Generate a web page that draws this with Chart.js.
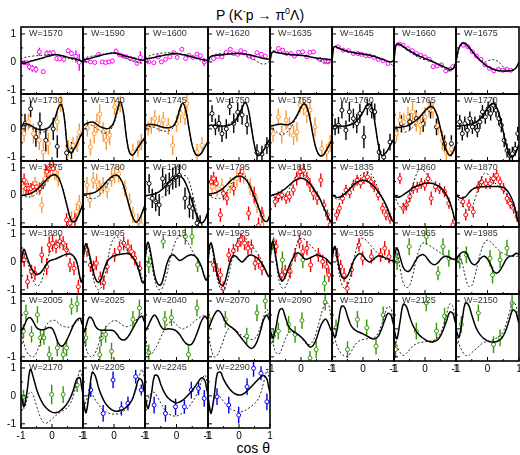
<!DOCTYPE html>
<html>
<head>
<meta charset="utf-8">
<script src="https://cdn.jsdelivr.net/npm/chart.js@4.4.0/dist/chart.umd.min.js"></script>
<style>
body { margin: 0; background: #fff; }
#wrap { position: relative; width: 520px; height: 455px; overflow: hidden; font-family: "Liberation Sans", Arial, sans-serif; }
#wrap canvas { position: absolute; }
.lab { position: absolute; font-size: 9px; line-height: 9px; color: #333; white-space: nowrap; pointer-events: none; }
.xlab { position: absolute; z-index: 10; font-size: 10px; line-height: 12px; color: #000; white-space: nowrap; transform: translateX(-50%); }
#title { position: absolute; left: 0; top: 8px; width: 520px; text-align: center; font-size: 14px; line-height: 14px; }
#title sup { font-size: 9px; line-height: 0; vertical-align: 6px; }
#xt { position: absolute; right: 250px; top: 441px; font-size: 14px; line-height: 14px; }
</style>
</head>
<body>
<div id="wrap">
  <div id="title">P (K<sup>-</sup>p &rarr; &pi;<sup>0</sup>&Lambda;)</div>
  <div id="xt">cos &theta;</div>
</div>
<script>
// Energías W (MeV) de cada panel
const W = [1570, 1590, 1600, 1620, 1635, 1645, 1660, 1675,
           1730, 1740, 1745, 1750, 1755, 1760, 1765, 1770,
           1775, 1780, 1790, 1795, 1815, 1835, 1860, 1870,
           1880, 1905, 1915, 1925, 1940, 1955, 1965, 1985,
           2005, 2025, 2040, 2070, 2090, 2110, 2125, 2150,
           2170, 2205, 2245, 2290];

// Puntos en cos(theta) donde se leen las curvas
const cosGrid = [-1, -0.95, -0.9, -0.8, -0.7, -0.6, -0.5, -0.4, -0.3, -0.2, -0.1, 0,
                 0.1, 0.2, 0.3, 0.4, 0.5, 0.6, 0.7, 0.8, 0.9, 0.95, 1];

// Etiquetas del eje x
const xTickValues = [-1, 0, 1];

// Curva continua (ajuste)
const solidFit = [
  [0.0,-0.04,-0.05,-0.02,0.02,0.05,0.08,0.11,0.14,0.18,0.21,0.24,0.26,0.25,0.23,0.2,0.17,0.14,0.12,0.1,0.06,0.03,0.0],
  [0.05,0.07,0.09,0.12,0.15,0.18,0.21,0.24,0.27,0.29,0.31,0.32,0.3,0.27,0.23,0.2,0.17,0.14,0.11,0.08,0.06,0.07,0.1],
  [0.1,0.11,0.12,0.14,0.16,0.19,0.21,0.24,0.26,0.28,0.29,0.29,0.28,0.26,0.24,0.21,0.18,0.15,0.12,0.09,0.07,0.06,0.06],
  [-0.05,0.15,0.2,0.23,0.24,0.25,0.26,0.27,0.28,0.29,0.3,0.3,0.29,0.28,0.26,0.24,0.21,0.18,0.15,0.12,0.1,0.1,0.1],
  [0.0,0.3,0.36,0.34,0.32,0.3,0.28,0.27,0.26,0.25,0.24,0.23,0.22,0.2,0.18,0.16,0.14,0.12,0.11,0.1,0.09,0.09,0.1],
  [0.0,0.5,0.55,0.5,0.45,0.41,0.38,0.35,0.33,0.31,0.29,0.28,0.26,0.24,0.21,0.18,0.14,0.1,0.06,0.02,0.0,0.02,0.06],
  [0.0,0.55,0.65,0.62,0.55,0.47,0.4,0.33,0.27,0.21,0.17,0.12,0.08,0.03,-0.02,-0.07,-0.12,-0.17,-0.22,-0.27,-0.25,-0.15,0.0],
  [0.0,0.3,0.52,0.68,0.66,0.54,0.4,0.26,0.13,0.02,-0.08,-0.16,-0.22,-0.27,-0.3,-0.32,-0.33,-0.33,-0.32,-0.3,-0.22,-0.12,0.0],
  [0.07,0.13,0.18,0.17,0.13,0.06,0.0,-0.02,-0.03,0.0,0.06,0.2,0.4,0.75,0.88,0.38,-0.65,-0.86,-0.75,-0.55,-0.3,-0.2,-0.1],
  [0.1,0.15,0.19,0.23,0.25,0.2,0.12,0.06,0.02,0.01,0.07,0.25,0.65,0.96,0.6,-0.3,-0.85,-0.94,-0.8,-0.62,-0.45,-0.38,-0.3],
  [0.12,0.14,0.15,0.16,0.15,0.12,0.08,0.05,0.04,0.05,0.1,0.3,0.7,0.92,0.65,0.0,-0.6,-0.9,-0.95,-0.85,-0.65,-0.55,-0.45],
  [0.12,0.13,0.14,0.13,0.12,0.1,0.1,0.11,0.14,0.2,0.32,0.5,0.75,0.95,0.7,0.05,-0.6,-0.95,-0.9,-0.75,-0.55,-0.45,-0.35],
  [0.1,0.11,0.12,0.15,0.17,0.17,0.15,0.16,0.22,0.35,0.55,0.78,0.9,0.75,0.3,-0.3,-0.75,-0.95,-0.95,-0.8,-0.6,-0.5,-0.4],
  [0.12,0.11,0.1,0.1,0.1,0.1,0.12,0.15,0.2,0.3,0.42,0.6,0.8,0.9,0.7,0.1,-0.6,-0.95,-0.9,-0.75,-0.55,-0.45,-0.35],
  [0.05,0.05,0.05,0.06,0.08,0.1,0.15,0.22,0.3,0.4,0.52,0.65,0.75,0.8,0.72,0.45,0.0,-0.45,-0.8,-0.95,-0.85,-0.7,-0.55],
  [0.1,0.1,0.1,0.12,0.13,0.15,0.18,0.22,0.3,0.4,0.55,0.72,0.87,0.9,0.75,0.4,-0.1,-0.6,-0.95,-1.0,-0.85,-0.7,-0.55],
  [0.0,0.0,0.01,0.03,0.06,0.12,0.2,0.3,0.42,0.55,0.66,0.73,0.75,0.65,0.4,0.0,-0.45,-0.85,-0.97,-0.85,-0.6,-0.45,-0.3],
  [0.05,0.05,0.05,0.06,0.08,0.12,0.2,0.3,0.42,0.55,0.65,0.72,0.73,0.62,0.38,0.0,-0.42,-0.78,-0.97,-0.9,-0.65,-0.5,-0.35],
  [0.0,0.0,0.0,0.02,0.05,0.1,0.18,0.28,0.4,0.52,0.62,0.7,0.71,0.62,0.42,0.12,-0.25,-0.6,-0.88,-1.0,-0.9,-0.75,-0.6],
  [0.05,0.05,0.06,0.08,0.12,0.18,0.27,0.38,0.5,0.6,0.67,0.7,0.68,0.6,0.45,0.22,-0.05,-0.35,-0.65,-0.9,-0.95,-0.85,-0.7],
  [0.0,0.0,0.02,0.05,0.1,0.17,0.25,0.35,0.45,0.54,0.6,0.62,0.6,0.52,0.4,0.25,0.08,-0.1,-0.35,-0.6,-0.85,-0.95,-0.9],
  [0.0,0.0,-0.05,-0.08,-0.03,0.05,0.15,0.27,0.38,0.47,0.53,0.55,0.53,0.47,0.38,0.27,0.12,-0.05,-0.25,-0.5,-0.8,-0.92,-0.9],
  [0.0,-0.05,-0.07,-0.05,0.02,0.1,0.18,0.26,0.32,0.37,0.41,0.44,0.45,0.44,0.41,0.36,0.28,0.17,0.0,-0.25,-0.6,-0.85,-0.95],
  [0.05,-0.02,-0.08,-0.1,-0.05,0.08,0.2,0.27,0.3,0.31,0.31,0.32,0.32,0.32,0.32,0.31,0.28,0.2,0.05,-0.2,-0.6,-0.85,-1.0],
  [0.0,0.3,0.45,0.15,-0.15,-0.35,-0.45,-0.42,-0.3,-0.12,0.02,0.07,0.1,0.15,0.2,0.25,0.28,0.28,0.2,0.0,-0.55,-0.72,-0.5],
  [0.0,0.5,0.65,0.3,-0.2,-0.6,-0.73,-0.55,-0.2,0.05,0.15,0.22,0.25,0.27,0.29,0.3,0.28,0.18,0.0,-0.3,-0.7,-0.75,-0.6],
  [0.0,0.55,0.7,0.2,-0.45,-0.78,-0.82,-0.5,-0.05,0.2,0.25,0.15,0.05,0.1,0.18,0.24,0.25,0.2,0.05,-0.2,-0.58,-0.65,-0.5],
  [0.0,0.55,0.68,0.2,-0.45,-0.8,-0.83,-0.5,-0.05,0.22,0.2,0.08,0.0,0.1,0.22,0.25,0.2,0.12,0.0,-0.18,-0.4,-0.5,-0.45],
  [0.0,0.6,0.72,0.1,-0.5,-0.68,-0.5,-0.2,0.05,0.25,0.33,0.25,0.12,0.1,0.15,0.2,0.25,0.23,0.18,0.12,0.0,-0.05,-0.1],
  [0.0,0.42,0.55,0.0,-0.5,-0.6,-0.5,-0.25,0.05,0.22,0.3,0.22,0.08,0.0,0.05,0.15,0.22,0.2,0.15,0.1,0.05,0.05,0.05],
  [0.0,0.38,0.5,0.15,-0.2,-0.33,-0.32,-0.15,0.05,0.2,0.26,0.22,0.08,-0.05,-0.1,-0.05,0.08,0.18,0.2,0.15,0.1,0.1,0.1],
  [0.0,0.15,0.25,0.35,0.35,0.15,-0.05,-0.1,0.0,0.15,0.2,0.1,-0.1,-0.35,-0.4,-0.3,-0.1,0.1,0.2,0.22,0.3,0.3,0.25],
  [-0.1,0.0,0.1,0.35,0.4,0.25,0.05,-0.02,-0.03,0.0,0.05,0.02,-0.2,-0.5,-0.62,-0.55,-0.35,-0.1,0.15,0.32,0.38,0.25,0.1],
  [0.0,-0.1,0.1,0.42,0.35,0.1,-0.02,-0.05,-0.05,-0.05,-0.05,-0.08,-0.2,-0.35,-0.4,-0.35,-0.2,0.0,0.2,0.38,0.45,0.35,0.2],
  [-0.1,0.0,0.1,0.35,0.5,0.35,0.1,-0.02,0.0,0.0,-0.02,-0.08,-0.2,-0.38,-0.52,-0.58,-0.52,-0.3,0.0,0.3,0.45,0.4,0.3],
  [0.0,0.1,0.25,0.5,0.65,0.6,0.4,0.2,0.1,0.02,-0.08,-0.22,-0.36,-0.5,-0.63,-0.7,-0.62,-0.4,-0.05,0.35,0.5,0.4,0.25],
  [0.0,-0.2,-0.32,0.1,0.65,0.72,0.4,0.1,-0.05,-0.12,-0.2,-0.28,-0.4,-0.55,-0.65,-0.58,-0.35,0.0,0.25,0.35,0.15,0.0,-0.1],
  [0.0,-0.2,-0.3,0.2,0.8,0.78,0.45,0.15,0.0,-0.08,-0.13,-0.18,-0.24,-0.3,-0.35,-0.35,-0.25,0.0,0.3,0.55,0.5,0.3,0.1],
  [0.0,-0.25,-0.35,0.3,0.88,0.8,0.45,0.15,-0.05,-0.2,-0.3,-0.38,-0.44,-0.47,-0.45,-0.4,-0.25,0.0,0.3,0.6,0.55,0.35,0.15],
  [0.0,-0.2,-0.3,0.35,0.93,0.85,0.5,0.15,-0.1,-0.25,-0.36,-0.43,-0.47,-0.47,-0.45,-0.38,-0.25,0.0,0.35,0.68,0.6,0.4,0.2],
  [0.05,-0.2,-0.38,0.2,0.95,0.65,0.25,-0.05,-0.27,-0.42,-0.52,-0.58,-0.6,-0.58,-0.5,-0.4,-0.25,-0.05,0.25,0.6,0.65,0.35,0.05],
  [0.0,-0.4,-0.6,0.1,0.85,0.7,0.3,0.0,-0.22,-0.37,-0.47,-0.53,-0.55,-0.52,-0.48,-0.4,-0.28,-0.1,0.25,0.6,0.55,0.3,0.05],
  [0.0,-0.3,-0.45,0.05,0.72,0.72,0.42,0.15,-0.03,-0.14,-0.21,-0.25,-0.22,-0.15,-0.05,0.07,0.2,0.35,0.52,0.65,0.55,0.3,0.05],
  [0.0,-0.4,-0.62,0.0,0.8,0.85,0.6,0.4,0.25,0.13,0.06,0.03,0.05,0.12,0.22,0.33,0.45,0.57,0.67,0.73,0.6,0.35,0.1]
];

// Curva punteada (ajuste alternativo)
const dashFit = [
  [0.08,0.12,0.15,0.18,0.2,0.21,0.22,0.23,0.24,0.25,0.26,0.27,0.27,0.25,0.22,0.18,0.14,0.1,0.07,0.05,0.04,0.03,0.02],
  [0.1,0.13,0.16,0.19,0.21,0.23,0.25,0.27,0.29,0.31,0.32,0.31,0.28,0.23,0.18,0.13,0.08,0.04,0.0,-0.03,-0.04,0.0,0.05],
  [0.15,0.17,0.2,0.24,0.27,0.29,0.31,0.32,0.33,0.33,0.33,0.32,0.3,0.27,0.24,0.2,0.16,0.12,0.08,0.05,0.02,0.01,0.0],
  [-0.05,0.12,0.2,0.26,0.28,0.3,0.31,0.31,0.31,0.31,0.31,0.3,0.28,0.24,0.19,0.13,0.07,0.0,-0.06,-0.08,-0.05,0.0,0.05],
  [0.0,0.3,0.4,0.38,0.34,0.31,0.29,0.28,0.27,0.26,0.26,0.25,0.24,0.22,0.19,0.15,0.1,0.05,0.01,-0.02,-0.02,0.02,0.08],
  [0.0,0.5,0.56,0.52,0.47,0.43,0.4,0.37,0.35,0.33,0.32,0.3,0.28,0.26,0.23,0.2,0.16,0.12,0.07,0.02,-0.07,-0.13,-0.12],
  [0.0,0.5,0.62,0.6,0.52,0.44,0.36,0.29,0.22,0.15,0.1,0.08,0.08,0.06,0.0,-0.07,-0.15,-0.22,-0.28,-0.3,-0.25,-0.18,-0.1],
  [0.0,0.28,0.48,0.62,0.6,0.5,0.37,0.24,0.12,0.04,0.0,0.03,0.07,0.08,0.04,-0.05,-0.18,-0.28,-0.32,-0.3,-0.22,-0.16,-0.1],
  [0.05,0.08,0.1,0.1,0.05,-0.02,-0.08,-0.12,-0.12,-0.08,0.0,0.15,0.38,0.72,0.88,0.4,-0.62,-0.86,-0.75,-0.55,-0.3,-0.2,-0.1],
  [0.1,0.12,0.14,0.15,0.12,0.05,-0.03,-0.1,-0.15,-0.13,-0.02,0.2,0.55,0.9,0.62,-0.25,-0.85,-0.95,-0.82,-0.65,-0.47,-0.4,-0.32],
  [0.1,0.1,0.1,0.08,0.05,0.0,-0.05,-0.08,-0.08,-0.05,0.05,0.25,0.6,0.9,0.65,0.0,-0.6,-0.9,-0.95,-0.85,-0.65,-0.55,-0.45],
  [0.1,0.1,0.1,0.08,0.07,0.08,0.1,0.14,0.2,0.28,0.4,0.56,0.76,0.93,0.7,0.05,-0.6,-0.95,-0.9,-0.75,-0.55,-0.45,-0.35],
  [0.1,0.05,0.0,-0.1,-0.18,-0.2,-0.15,-0.05,0.1,0.3,0.5,0.72,0.88,0.75,0.3,-0.3,-0.75,-0.95,-0.95,-0.8,-0.6,-0.5,-0.4],
  [0.1,0.08,0.06,0.03,0.03,0.05,0.1,0.18,0.28,0.4,0.5,0.62,0.78,0.88,0.7,0.1,-0.6,-0.95,-0.9,-0.75,-0.55,-0.45,-0.35],
  [0.05,0.0,-0.05,-0.1,-0.12,-0.1,-0.05,0.05,0.2,0.35,0.48,0.6,0.72,0.8,0.72,0.45,0.0,-0.45,-0.8,-0.95,-0.85,-0.7,-0.55],
  [0.1,0.1,0.1,0.11,0.12,0.14,0.17,0.22,0.3,0.42,0.58,0.75,0.88,0.88,0.72,0.38,-0.1,-0.6,-0.95,-1.0,-0.85,-0.7,-0.55],
  [0.0,-0.02,-0.04,-0.06,-0.06,-0.02,0.05,0.15,0.28,0.45,0.6,0.72,0.76,0.66,0.4,0.0,-0.45,-0.85,-0.97,-0.85,-0.6,-0.45,-0.3],
  [0.05,0.0,-0.05,-0.1,-0.12,-0.1,-0.02,0.1,0.25,0.42,0.58,0.7,0.74,0.62,0.38,0.0,-0.42,-0.78,-0.97,-0.9,-0.65,-0.5,-0.35],
  [0.0,-0.05,-0.1,-0.18,-0.22,-0.2,-0.12,0.0,0.15,0.3,0.45,0.58,0.67,0.72,0.7,0.5,0.1,-0.4,-0.85,-1.05,-0.9,-0.75,-0.6],
  [0.05,0.0,-0.05,-0.1,-0.12,-0.1,-0.02,0.12,0.3,0.5,0.68,0.8,0.8,0.7,0.5,0.25,-0.05,-0.35,-0.65,-0.9,-0.95,-0.85,-0.7],
  [0.0,-0.03,-0.06,-0.1,-0.12,-0.08,0.02,0.2,0.42,0.62,0.76,0.8,0.76,0.62,0.45,0.27,0.08,-0.12,-0.38,-0.63,-0.88,-0.95,-0.9],
  [0.0,-0.05,-0.1,-0.15,-0.1,0.0,0.12,0.27,0.43,0.58,0.7,0.8,0.85,0.83,0.72,0.5,0.22,-0.05,-0.32,-0.58,-0.85,-0.95,-0.9],
  [0.0,-0.1,-0.25,-0.42,-0.47,-0.38,-0.1,0.3,0.7,0.92,0.95,0.85,0.7,0.55,0.43,0.33,0.22,0.1,-0.08,-0.3,-0.62,-0.85,-0.95],
  [0.0,-0.1,-0.2,-0.35,-0.5,-0.55,-0.45,-0.15,0.25,0.6,0.8,0.78,0.65,0.5,0.38,0.28,0.18,0.05,-0.12,-0.35,-0.7,-0.9,-1.0],
  [0.0,0.22,0.35,0.05,-0.35,-0.68,-0.85,-0.82,-0.55,-0.15,0.25,0.5,0.65,0.7,0.65,0.55,0.42,0.3,0.15,-0.05,-0.55,-0.72,-0.5],
  [0.0,0.4,0.55,0.2,-0.4,-0.85,-1.0,-0.9,-0.5,0.1,0.6,0.85,0.9,0.8,0.62,0.45,0.3,0.18,0.05,-0.15,-0.55,-0.75,-0.6],
  [0.0,0.4,0.55,0.0,-0.6,-0.95,-1.0,-0.8,-0.4,0.1,0.5,0.8,0.92,0.9,0.8,0.62,0.4,0.2,0.0,-0.2,-0.5,-0.65,-0.5],
  [0.0,0.4,0.55,0.05,-0.6,-0.95,-1.0,-0.75,-0.3,0.2,0.6,0.85,0.9,0.85,0.75,0.6,0.45,0.3,0.1,-0.15,-0.45,-0.55,-0.5],
  [0.0,0.45,0.6,-0.05,-0.7,-0.95,-0.9,-0.6,-0.1,0.35,0.7,0.85,0.82,0.72,0.6,0.48,0.35,0.22,0.1,0.0,-0.05,-0.08,-0.1],
  [0.0,0.35,0.45,-0.2,-0.75,-0.95,-0.85,-0.45,0.05,0.5,0.8,0.85,0.78,0.65,0.52,0.4,0.28,0.18,0.1,0.03,0.0,0.0,0.02],
  [0.0,0.3,0.35,-0.25,-0.75,-0.92,-0.85,-0.5,0.0,0.4,0.65,0.68,0.62,0.55,0.47,0.4,0.32,0.25,0.18,0.12,0.08,0.08,0.1],
  [0.0,0.2,0.25,-0.05,-0.55,-0.88,-0.85,-0.5,0.0,0.4,0.68,0.78,0.72,0.6,0.48,0.38,0.3,0.25,0.22,0.2,0.2,0.2,0.2],
  [0.0,-0.3,-0.55,-0.85,-0.97,-1.0,-0.85,-0.55,-0.2,0.1,0.25,0.3,0.3,0.22,0.12,0.08,0.06,0.08,0.15,0.25,0.35,0.38,0.3],
  [0.0,-0.4,-0.7,-0.95,-1.0,-0.85,-0.55,-0.25,0.0,0.15,0.25,0.3,0.28,0.2,0.12,0.08,0.1,0.18,0.3,0.45,0.55,0.45,0.3],
  [0.0,-0.5,-0.85,-0.9,-0.75,-0.55,-0.3,-0.05,0.15,0.25,0.25,0.15,0.05,0.0,0.05,0.1,0.2,0.3,0.38,0.45,0.48,0.4,0.3],
  [0.0,-0.4,-0.7,-1.0,-0.95,-0.7,-0.4,-0.1,0.05,0.05,-0.05,-0.15,-0.25,-0.3,-0.35,-0.38,-0.35,-0.2,0.1,0.45,0.7,0.55,0.35],
  [0.0,-0.3,-0.55,-0.85,-0.9,-0.65,-0.35,-0.15,-0.1,-0.15,-0.22,-0.32,-0.45,-0.55,-0.55,-0.4,-0.1,0.3,0.7,0.95,0.85,0.5,0.2],
  [0.0,-0.2,-0.4,-0.7,-0.88,-0.97,-0.98,-0.85,-0.65,-0.5,-0.42,-0.38,-0.36,-0.35,-0.33,-0.28,-0.12,0.15,0.5,0.8,0.75,0.4,0.1],
  [0.0,-0.3,-0.6,-0.85,-0.95,-0.88,-0.75,-0.62,-0.55,-0.5,-0.48,-0.46,-0.45,-0.43,-0.4,-0.32,-0.15,0.15,0.55,0.9,0.8,0.45,0.15],
  [0.0,-0.3,-0.55,-0.8,-0.95,-0.95,-0.85,-0.75,-0.65,-0.55,-0.48,-0.45,-0.42,-0.38,-0.32,-0.25,-0.1,0.2,0.6,0.95,0.85,0.5,0.2],
  [0.0,-0.3,-0.45,-0.1,0.15,0.0,-0.35,-0.7,-0.92,-0.98,-0.92,-0.82,-0.72,-0.64,-0.57,-0.5,-0.42,-0.25,0.05,0.45,0.95,0.8,0.5],
  [0.0,-0.35,-0.2,0.1,0.05,-0.15,-0.3,-0.45,-0.55,-0.6,-0.65,-0.65,-0.65,-0.62,-0.55,-0.45,-0.3,-0.1,0.2,0.65,0.95,0.8,0.5],
  [0.0,-0.25,-0.1,0.1,0.12,-0.05,-0.25,-0.45,-0.6,-0.68,-0.72,-0.72,-0.68,-0.6,-0.5,-0.38,-0.22,-0.05,0.2,0.55,0.75,0.6,0.4],
  [0.0,-0.5,-0.6,-0.1,0.05,-0.05,-0.2,-0.35,-0.45,-0.5,-0.55,-0.58,-0.56,-0.52,-0.45,-0.37,-0.28,-0.15,0.1,0.5,0.9,0.75,0.45]
];

// Experimento de la serie principal y de la secundaria en cada panel
const expA = ['M','M','M','M','M','M','M','M',
              'O','O','O','K','O','K','O','K',
              'R','O','K','R','R','R','R','R',
              'R','R','G','R','R','R','G','G',
              'G','G','G','G','G','G','G','G',
              'G','B','B','B'];
const expB = [null,null,null,null,null,null,null,null,
              'K',null,null,null,null,null,'K',null,
              'O',null,null,'O',null,null,null,null,
              null,null,null,null,'G',null,null,null,
              null,null,null,null,null,null,null,null,
              null,null,null,null];

// Datos medidos [cos theta, P, error]
const ptsA = [
  [[-0.9,-0.03,0.08],[-0.82,-0.03,0.08],[-0.73,-0.18,0.12],[-0.63,-0.23,0.12],[-0.52,-0.27,0.12],[-0.41,0.36,0.15],[-0.28,-0.35,0.08],[-0.17,0.3,0.12],[-0.07,0.3,0.12],[0.04,0.33,0.1],[0.15,0.12,0.1],[0.25,0.12,0.1],[0.38,0.09,0.1],[0.52,0.4,0.08],[0.63,0.3,0.1],[0.77,0.2,0.22],[0.88,-0.02,0.3]],
  [[-0.87,0.06,0.06],[-0.76,0.0,0.06],[-0.62,-0.02,0.06],[-0.49,0.27,0.06],[-0.38,0.0,0.06],[-0.27,-0.02,0.06],[-0.16,0.0,0.06],[-0.05,0.03,0.08],[0.07,0.38,0.1],[0.18,0.25,0.06],[0.29,0.21,0.06],[0.4,0.18,0.06],[0.53,0.12,0.06],[0.64,0.09,0.08],[0.74,-0.05,0.08],[0.85,0.16,0.22]],
  [[-0.88,0.0,0.06],[-0.72,-0.03,0.06],[-0.58,0.18,0.06],[-0.48,0.0,0.06],[-0.35,0.09,0.06],[-0.21,0.18,0.06],[-0.09,0.33,0.06],[0.02,0.16,0.06],[0.17,0.45,0.06],[0.29,0.12,0.06],[0.4,0.24,0.06],[0.52,0.16,0.06],[0.65,0.28,0.06],[0.76,0.22,0.06],[0.88,0.0,0.15]],
  [[-0.82,0.12,0.05],[-0.69,0.2,0.05],[-0.55,0.18,0.05],[-0.41,0.34,0.05],[-0.28,0.45,0.05],[-0.17,0.3,0.05],[-0.04,0.27,0.05],[0.06,0.4,0.05],[0.18,0.34,0.05],[0.31,0.21,0.05],[0.45,0.15,0.05],[0.58,0.33,0.05],[0.72,0.27,0.05],[0.85,0.21,0.05]],
  [[-0.73,0.48,0.06],[-0.59,0.42,0.05],[-0.46,0.3,0.05],[-0.33,0.3,0.05],[-0.21,0.21,0.05],[-0.08,0.34,0.05],[0.05,0.36,0.05],[0.19,0.18,0.06],[0.29,0.34,0.06],[0.4,0.36,0.06],[0.61,0.09,0.06],[0.77,0.0,0.06],[0.88,0.0,0.06]],
  [[-0.8,0.54,0.05],[-0.64,0.42,0.05],[-0.47,0.4,0.05],[-0.31,0.3,0.05],[-0.17,0.3,0.05],[-0.05,0.27,0.05],[0.09,0.22,0.05],[0.22,0.21,0.05],[0.36,0.16,0.05],[0.49,0.09,0.05],[0.65,0.04,0.05],[0.81,-0.06,0.05]],
  [[-0.83,0.64,0.05],[-0.71,0.6,0.05],[-0.55,0.48,0.05],[-0.41,0.4,0.05],[-0.28,0.3,0.05],[-0.14,0.24,0.05],[0.0,0.18,0.05],[0.13,0.09,0.05],[0.26,-0.17,0.05],[0.39,-0.15,0.05],[0.53,-0.11,0.05],[0.67,-0.32,0.05],[0.8,-0.27,0.05],[0.9,-0.17,0.05]],
  [[-0.76,0.6,0.05],[-0.62,0.54,0.05],[-0.48,0.36,0.05],[-0.35,0.21,0.05],[-0.21,0.09,0.05],[-0.08,-0.11,0.05],[0.06,-0.23,0.05],[0.2,-0.32,0.05],[0.35,-0.27,0.05],[0.48,-0.3,0.05],[0.61,-0.27,0.05],[0.74,-0.3,0.05]],
  [[-0.9,-0.17,0.3],[-0.76,0.25,0.3],[-0.6,-0.17,0.35],[-0.41,-0.41,0.35],[-0.28,-0.83,0.35],[-0.12,-0.53,0.4],[0.17,0.25,0.35],[0.28,0.9,0.3],[0.52,-0.71,0.3],[0.68,-0.59,0.3],[0.81,-0.53,0.3],[0.88,-0.11,0.3]],
  [[-0.86,0.03,0.3],[-0.76,-0.65,0.3],[-0.64,-0.17,0.35],[-0.55,0.2,0.35],[-0.46,0.53,0.35],[-0.35,-0.11,0.35],[-0.25,-0.41,0.35],[-0.14,-0.23,0.35],[0.02,0.79,0.3],[0.2,0.9,0.3],[0.61,-0.83,0.3],[0.77,-0.71,0.3],[0.88,-0.47,0.3]],
  [[-0.9,0.01,0.25],[-0.8,0.13,0.3],[-0.69,0.37,0.3],[-0.55,0.19,0.3],[-0.42,0.31,0.3],[-0.26,0.09,0.3],[-0.12,-0.59,0.35],[0.0,0.19,0.3],[0.13,0.55,0.35],[0.27,0.43,0.3],[0.33,0.91,0.3],[0.65,-0.83,0.3],[0.81,-0.59,0.3]],
  [[-0.87,0.55,0.3],[-0.76,0.07,0.3],[-0.65,0.2,0.3],[-0.55,-0.17,0.3],[-0.41,0.0,0.35],[-0.3,0.8,0.3],[-0.17,0.2,0.35],[-0.04,0.6,0.35],[0.1,0.5,0.35],[0.26,0.15,0.35],[0.58,-0.85,0.3],[0.74,-0.9,0.3],[0.9,-0.6,0.3]],
  [[-0.9,-0.17,0.3],[-0.73,0.43,0.3],[-0.62,-0.17,0.35],[-0.48,0.31,0.35],[-0.37,0.07,0.35],[-0.24,-0.23,0.35],[-0.13,-0.11,0.35],[-0.03,0.85,0.3],[0.08,0.79,0.3],[0.19,0.55,0.35],[0.29,0.67,0.3],[0.45,0.07,0.35],[0.67,-0.71,0.3],[0.83,-0.83,0.3],[0.94,-0.53,0.3]],
  [[-0.9,0.07,0.3],[-0.79,0.13,0.3],[-0.68,0.67,0.3],[-0.55,-0.05,0.35],[-0.44,0.61,0.35],[-0.31,0.37,0.35],[-0.2,0.19,0.35],[-0.1,0.55,0.35],[0.03,-0.29,0.4],[0.14,0.79,0.3],[0.28,0.67,0.3],[0.38,0.61,0.3],[0.52,-0.83,0.3],[0.67,-1.01,0.3],[0.87,-0.47,0.3]],
  [[-0.92,-0.17,0.3],[-0.81,0.31,0.3],[-0.68,0.25,0.3],[-0.55,0.43,0.35],[-0.4,0.61,0.35],[-0.28,0.25,0.35],[-0.15,0.13,0.35],[0.0,0.43,0.35],[0.13,0.73,0.3],[0.26,0.67,0.3],[0.42,0.13,0.35],[0.56,-0.41,0.35],[0.69,-0.83,0.3],[0.85,-0.71,0.3]],
  [[-0.88,0.25,0.25],[-0.8,-0.17,0.25],[-0.72,0.19,0.25],[-0.64,-0.05,0.25],[-0.56,0.37,0.25],[-0.48,0.07,0.25],[-0.4,0.19,0.25],[-0.32,-0.05,0.25],[-0.24,0.25,0.25],[-0.16,0.61,0.25],[-0.07,0.43,0.25],[0.02,0.73,0.25],[0.1,0.55,0.25],[0.19,0.85,0.25],[0.27,0.67,0.25],[0.36,0.37,0.25],[0.44,0.13,0.25],[0.53,-0.41,0.25],[0.62,-0.77,0.25],[0.7,-0.95,0.25],[0.79,-0.89,0.25],[0.88,-0.71,0.25],[0.96,-0.17,0.25]],
  [[-0.9,0.55,0.25],[-0.84,0.25,0.2],[-0.76,0.25,0.2],[-0.68,0.25,0.2],[-0.61,0.31,0.2],[-0.5,0.31,0.2],[-0.39,0.25,0.2],[-0.28,0.43,0.2],[-0.17,0.85,0.25],[-0.07,0.97,0.25],[0.04,0.97,0.25],[0.47,-0.89,0.25],[0.58,-1.01,0.25],[0.74,-0.89,0.25]],
  [[-0.87,0.37,0.3],[-0.78,-0.17,0.3],[-0.67,0.55,0.3],[-0.56,0.49,0.3],[-0.46,0.25,0.3],[-0.35,0.37,0.3],[-0.22,0.2,0.3],[-0.08,0.61,0.3],[0.02,0.73,0.3],[0.15,0.78,0.3],[0.35,0.25,0.3],[0.5,-0.23,0.3],[0.61,-0.71,0.3],[0.77,-0.95,0.3],[0.88,-1.07,0.3]],
  [[-0.87,0.43,0.35],[-0.77,-0.11,0.35],[-0.66,-0.23,0.35],[-0.55,-0.35,0.4],[-0.44,0.61,0.4],[-0.34,0.37,0.4],[-0.23,0.43,0.4],[-0.12,0.61,0.4],[-0.02,0.67,0.4],[0.09,0.73,0.4],[0.27,-0.11,0.4],[0.41,-0.41,0.4],[0.52,-0.47,0.4],[0.65,-1.01,0.35],[0.75,-1.07,0.35]],
  [[-0.9,0.49,0.25],[-0.82,0.61,0.25],[-0.73,0.43,0.25],[-0.6,-0.71,0.25],[-0.5,0.07,0.25],[-0.39,-0.11,0.25],[-0.17,0.25,0.25],[0.04,0.73,0.25],[0.31,-0.65,0.25],[0.49,0.01,0.3],[0.63,-1.1,0.3],[0.74,-0.71,0.3]],
  [[-0.83,-0.23,0.2],[-0.73,-0.05,0.2],[-0.62,0.01,0.2],[-0.48,-0.11,0.2],[-0.37,-0.05,0.2],[-0.25,0.2,0.2],[-0.14,0.61,0.25],[-0.03,0.85,0.25],[0.08,0.91,0.25],[0.19,0.61,0.25],[0.29,0.37,0.25],[0.4,0.07,0.25],[0.52,-0.1,0.25],[0.64,0.55,0.25],[0.74,-0.35,0.2],[0.85,-0.71,0.2],[0.94,-1.07,0.2]],
  [[-0.85,-0.71,0.2],[-0.76,-0.47,0.2],[-0.66,-0.11,0.2],[-0.55,0.19,0.2],[-0.43,0.1,0.2],[-0.31,0.37,0.2],[-0.19,0.55,0.2],[-0.08,0.45,0.2],[0.03,0.61,0.2],[0.14,0.67,0.2],[0.26,0.49,0.2],[0.36,0.31,0.2],[0.49,0.01,0.2],[0.63,-0.47,0.2],[0.74,-0.71,0.2],[0.87,-0.83,0.2]],
  [[-0.81,0.61,0.2],[-0.7,-0.47,0.2],[-0.6,-0.35,0.2],[-0.49,-0.05,0.2],[-0.38,0.25,0.2],[-0.25,0.3,0.2],[-0.12,0.43,0.2],[-0.01,0.37,0.2],[0.1,0.61,0.2],[0.2,-0.11,0.25],[0.34,0.31,0.2],[0.47,0.25,0.2],[0.63,0.13,0.2],[0.77,-0.29,0.2],[0.9,-1.07,0.2]],
  [[-0.78,-0.23,0.2],[-0.69,-0.71,0.2],[-0.59,-0.35,0.2],[-0.45,-0.6,0.2],[-0.29,0.31,0.2],[-0.19,0.49,0.2],[-0.05,0.43,0.2],[0.08,0.43,0.2],[0.19,0.61,0.2],[0.29,0.73,0.2],[0.4,0.49,0.2],[0.51,0.25,0.2],[0.62,-0.11,0.2],[0.72,-0.29,0.2],[0.83,-0.47,0.2],[0.94,-0.77,0.2]],
  [[-0.9,0.07,0.25],[-0.79,-0.71,0.25],[-0.66,-0.35,0.25],[-0.55,-0.41,0.25],[-0.33,0.25,0.3],[-0.17,-0.17,0.3],[-0.09,0.61,0.3],[0.02,0.67,0.3],[0.13,0.55,0.25],[0.25,0.73,0.25],[0.36,0.67,0.25],[0.47,0.43,0.25],[0.58,-0.11,0.25],[0.71,-0.23,0.25],[0.85,-0.89,0.25]],
  [[-0.87,0.43,0.25],[-0.76,-0.11,0.25],[-0.66,-0.2,0.25],[-0.57,-0.05,0.25],[-0.44,-0.59,0.25],[-0.33,-0.75,0.25],[-0.22,-0.17,0.25],[0.02,0.25,0.25],[0.18,0.49,0.25],[0.31,0.67,0.25],[0.45,0.55,0.25],[0.56,0.37,0.25],[0.67,0.13,0.25],[0.83,-0.23,0.25]],
  [[-0.88,-0.11,0.3],[-0.42,0.73,0.25],[0.28,0.91,0.3],[0.49,0.91,0.3],[0.67,-0.11,0.25]],
  [[-0.82,-0.11,0.25],[-0.71,-0.29,0.25],[-0.6,-0.47,0.25],[-0.51,-0.95,0.25],[-0.33,0.25,0.25],[-0.18,0.4,0.25],[-0.04,0.61,0.25],[0.06,0.79,0.25],[0.18,0.67,0.25],[0.29,0.49,0.25],[0.4,0.55,0.25],[0.52,-0.05,0.25],[0.63,0.01,0.25],[0.74,-0.23,0.25]],
  [[-0.88,0.67,0.2],[-0.8,0.55,0.25],[-0.62,-0.47,0.25],[-0.51,-0.35,0.25],[-0.35,-0.35,0.25],[-0.19,0.25,0.25],[-0.05,0.73,0.25],[0.06,0.37,0.25],[0.19,0.49,0.25],[0.31,-0.11,0.25],[0.56,0.25,0.25],[0.7,0.01,0.25],[0.83,-0.17,0.25],[0.9,-0.47,0.25]],
  [[-0.83,0.25,0.25],[-0.72,-0.17,0.25],[-0.61,-0.47,0.25],[-0.51,-0.95,0.25],[-0.37,-0.29,0.25],[-0.13,0.61,0.25],[-0.01,0.13,0.25],[0.27,0.19,0.25],[0.57,0.25,0.25],[0.7,0.49,0.25],[0.84,0.19,0.25]],
  [[-0.9,0.01,0.3],[-0.51,0.55,0.3],[0.04,0.91,0.3],[0.42,-0.41,0.25],[0.58,0.55,0.3],[0.77,0.13,0.3]],
  [[-0.88,0.01,0.25],[-0.67,0.25,0.3],[0.08,0.13,0.3],[0.16,-0.47,0.3],[0.4,0.07,0.3],[0.62,0.49,0.3]],
  [[-0.92,-0.08,0.25],[-0.84,0.57,0.3],[-0.66,-0.2,0.3],[-0.47,0.51,0.3],[-0.37,-0.32,0.3],[-0.26,-0.32,0.25],[-0.09,-0.92,0.3],[0.17,-0.68,0.3],[0.36,-0.92,0.3],[0.47,-0.68,0.3],[0.63,0.81,0.3],[0.81,0.9,0.3]],
  [[-0.91,-0.32,0.3],[-0.46,-0.92,0.3],[-0.41,-0.32,0.3],[-0.27,-0.2,0.3],[-0.08,-0.8,0.3],[0.61,0.34,0.3],[0.82,0.75,0.3]],
  [[-0.88,-0.86,0.3],[-0.37,0.34,0.3],[-0.16,0.4,0.3],[0.38,-0.92,0.3],[0.65,0.75,0.3]],
  [[-0.98,0.34,0.3],[-0.44,0.34,0.3],[0.25,-0.26,0.3],[0.58,0.57,0.3],[0.85,1.0,0.3]],
  [[-0.89,-0.26,0.25],[-0.73,-0.08,0.3],[-0.4,0.16,0.3],[-0.19,-0.2,0.3],[0.03,0.3,0.3],[0.29,-1.04,0.25],[0.49,-0.74,0.3],[0.78,0.96,0.3]],
  [[-0.87,0.04,0.3],[-0.5,-0.74,0.3],[-0.18,0.34,0.3],[0.12,0.04,0.3],[0.42,-0.62,0.3],[0.65,0.5,0.3]],
  [[-0.95,-0.74,0.3],[-0.28,-0.08,0.3],[0.04,0.93,0.3],[0.37,-0.08,0.3],[0.63,0.46,0.3]],
  [[-0.83,0.16,0.3],[-0.29,0.57,0.3],[0.19,-0.56,0.3],[0.4,-0.32,0.3],[0.78,0.93,0.3]],
  [[-0.92,-0.03,0.25],[-0.01,0.05,0.35],[0.36,0.05,0.3],[0.81,0.39,0.25]],
  [[-0.75,0.21,0.25],[-0.35,-0.63,0.3],[-0.03,0.57,0.3],[0.24,-0.45,0.25],[0.45,-0.27,0.25],[0.7,0.69,0.25],[0.88,0.21,0.2]],
  [[-0.71,-0.33,0.3],[-0.35,-0.63,0.3],[-0.03,-0.39,0.3],[0.25,-0.39,0.25],[0.47,0.21,0.3],[0.7,0.27,0.25],[0.88,-0.09,0.3]],
  [[-0.71,-0.03,0.3],[-0.33,-0.33,0.3],[-0.01,-0.69,0.3],[0.26,0.33,0.3],[0.47,0.99,0.3],[0.71,0.81,0.25],[0.9,-0.21,0.3]]
];

const ptsB = [
  [],[],[],[],[],[],[],[],
  [[-0.87,0.19,0.35],[-0.69,0.72,0.3],[-0.52,-0.29,0.35],[-0.39,0.19,0.4],[-0.2,-0.41,0.4],[0.04,0.0,0.4],[0.17,-0.63,0.4],[0.47,-0.86,0.3],[0.63,-0.77,0.3]],
  [],[],[],[],[],
  [[-0.76,0.19,0.3],[-0.49,0.25,0.3],[-0.28,0.37,0.3],[-0.06,0.19,0.3],[0.18,0.67,0.3],[0.37,0.07,0.3],[0.63,-0.53,0.3],[0.85,-0.53,0.3]],
  [],
  [[-0.92,0.31,0.25],[-0.79,0.31,0.25],[-0.65,0.19,0.25],[-0.55,0.43,0.25],[-0.41,0.25,0.25],[-0.33,-0.35,0.3],[-0.23,0.61,0.3],[-0.12,0.79,0.3],[0.09,0.85,0.3],[0.2,0.61,0.3],[0.63,-0.89,0.3],[0.79,-0.59,0.3],[0.88,-0.29,0.3]],
  [],[],
  [[-0.87,0.31,0.3],[-0.71,0.25,0.3],[-0.55,0.31,0.3],[-0.28,0.37,0.3],[-0.07,0.61,0.3],[0.15,0.73,0.3],[0.36,0.31,0.3],[0.58,-0.35,0.3],[0.79,-0.83,0.3]],
  [],[],[],[],
  [],[],[],[],
  [[-0.91,0.61,0.2],[-0.6,0.07,0.3],[0.06,0.07,0.3],[0.76,-0.77,0.3]],
  [],[],[],
  [],[],[],[],[],[],[],[],
  [],[],[],[]
];

// Colores por experimento
const expColor = { M: '#ff00ff', O: '#ff9933', K: '#000000', R: '#ff0000', G: '#339900', B: '#0000ff' };

// Rejilla de paneles (bordes en píxeles)
const colEdge = [21, 83, 145, 208, 270, 332, 394, 456, 519];
const rowEdge = [27, 94, 161, 227, 294, 361, 428];
const PAD = { left: 22, right: 8, top: 6, bottom: 18 };

Chart.defaults.font.family = '"Liberation Sans", Arial, sans-serif';
Chart.defaults.color = '#000';

function tickLabel(v) {
  return Math.abs(v - Math.round(v)) < 1e-9 ? String(Math.round(v)) : '';
}

// Marco del panel y marcas interiores de los ejes
const framePlugin = {
  id: 'frame',
  afterDraw(chart) {
    const { ctx, chartArea: a, scales } = chart;
    ctx.save();
    ctx.strokeStyle = '#000';
    ctx.lineWidth = 1;
    ctx.beginPath();
    scales.x.ticks.forEach(t => {
      const px = scales.x.getPixelForValue(t.value);
      const len = tickLabel(t.value) !== '' ? 4 : 2;
      ctx.moveTo(px, a.bottom);
      ctx.lineTo(px, a.bottom - len);
    });
    scales.y.ticks.forEach(t => {
      const py = scales.y.getPixelForValue(t.value);
      const len = tickLabel(t.value) !== '' ? 4 : 2;
      ctx.moveTo(a.left, py);
      ctx.lineTo(a.left + len, py);
    });
    ctx.stroke();
    ctx.lineWidth = 1.6;
    ctx.strokeRect(a.left, a.top, a.right - a.left, a.bottom - a.top);
    ctx.restore();
  }
};

function curve(vals, dashed) {
  return {
    data: cosGrid.map((x, k) => ({ x, y: vals[k] })),
    showLine: true,
    pointRadius: 0,
    borderColor: dashed ? '#222' : '#000',
    borderWidth: dashed ? 1 : 1.5,
    borderDash: dashed ? [2, 2] : [],
    tension: 0.4,
    clip: 0
  };
}

function marks(pts, col) {
  return {
    data: pts.map(([x, y]) => ({ x, y })),
    showLine: false,
    pointRadius: 2,
    pointBorderWidth: 1,
    pointBorderColor: col,
    pointBackgroundColor: '#fff',
    clip: 0
  };
}

function bars(pts, col) {
  return {
    data: pts.flatMap(([x, y, e]) => [{ x, y: y - e }, { x, y: y + e }, { x, y: null }]),
    showLine: true,
    spanGaps: false,
    pointRadius: 0,
    borderColor: col,
    borderWidth: 1.4,
    tension: 0,
    clip: 0
  };
}

const wrap = document.getElementById('wrap');
const xLabelCharts = [];

W.forEach((w, i) => {
  const r = Math.floor(i / 8), c = i % 8;
  const L = colEdge[c], R = colEdge[c + 1], T = rowEdge[r], B = rowEdge[r + 1];
  const cw = R - L + PAD.left + PAD.right;
  const ch = B - T + PAD.top + PAD.bottom;

  const cv = document.createElement('canvas');
  cv.width = cw;
  cv.height = ch;
  cv.style.left = (L - PAD.left) + 'px';
  cv.style.top = (T - PAD.top) + 'px';
  cv.style.width = cw + 'px';
  cv.style.height = ch + 'px';
  wrap.appendChild(cv);

  const showY = c === 0;

  const datasets = [curve(solidFit[i], false), curve(dashFit[i], true)];
  const series = [[ptsA[i], expA[i]], [ptsB[i], expB[i]]].filter(s => s[0].length);
  series.forEach(([p, e]) => datasets.push(marks(p, expColor[e])));
  series.forEach(([p, e]) => datasets.push(bars(p, expColor[e])));

  const chart = new Chart(cv, {
    type: 'scatter',
    data: { datasets },
    options: {
      responsive: false,
      animation: false,
      devicePixelRatio: 1,
      events: [],
      // los ejes ocupan el margen izquierdo e inferior del lienzo
      layout: { padding: { left: 0, right: PAD.right, top: PAD.top, bottom: 0 }, autoPadding: false },
      plugins: { legend: { display: false }, tooltip: { enabled: false }, title: { display: false } },
      scales: {
        x: {
          type: 'linear', min: -1, max: 1,
          grid: { display: false, drawTicks: false },
          border: { display: false },
          afterFit: s => { s.height = PAD.bottom; s.paddingLeft = 0; s.paddingRight = 0; },
          ticks: { display: r === 5, stepSize: 0.5, includeBounds: false, autoSkip: false, maxRotation: 0,
                   padding: 2, font: { size: 10 }, color: '#000', callback: tickLabel }
        },
        y: {
          type: 'linear', min: -1.15, max: 1.25,
          grid: { display: false, drawTicks: false },
          border: { display: false },
          afterFit: s => { s.width = PAD.left; s.paddingTop = 0; s.paddingBottom = 0; },
          ticks: { display: showY, stepSize: 0.5, includeBounds: false, autoSkip: false,
                   padding: 5, font: { size: 10 }, color: '#000', callback: tickLabel }
        }
      }
    },
    plugins: [framePlugin]
  });

  // columnas sin panel debajo: etiquetas del eje x bajo la fila 5
  if (r === 4 && c >= 4) xLabelCharts.push(chart);

  const lab = document.createElement('div');
  lab.className = 'lab';
  lab.textContent = 'W=' + w;
  lab.style.left = (L + 8) + 'px';
  lab.style.top = (T + 2) + 'px';
  wrap.appendChild(lab);
});

// etiquetas colocadas con la escala x de cada panel
xLabelCharts.forEach(chart => {
  const box = chart.canvas.getBoundingClientRect();
  const wbox = wrap.getBoundingClientRect();
  xTickValues.forEach(v => {
    const d = document.createElement('div');
    d.className = 'xlab';
    d.textContent = String(v);
    d.style.left = (box.left - wbox.left + chart.scales.x.getPixelForValue(v)) + 'px';
    d.style.top = (box.top - wbox.top + chart.chartArea.bottom + 2) + 'px';
    wrap.appendChild(d);
  });
});
</script>
</body>
</html>
